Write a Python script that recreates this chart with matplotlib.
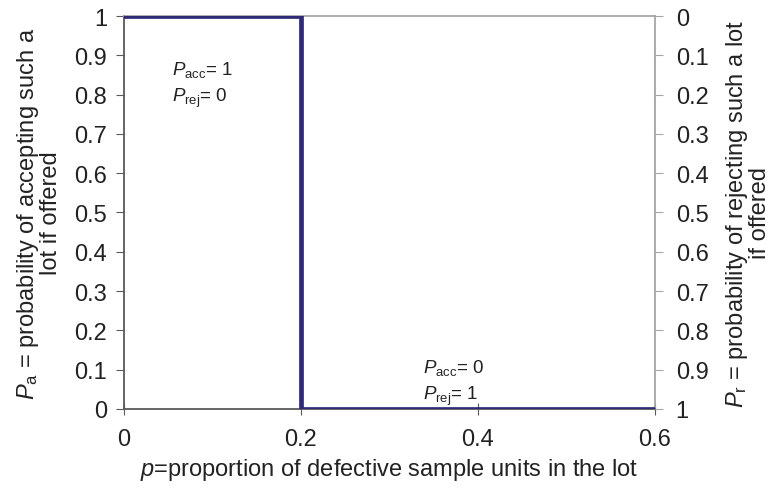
import matplotlib.pyplot as plt

plt.rcParams['font.family'] = ['Liberation Sans', 'DejaVu Sans']
plt.rcParams['mathtext.fontset'] = 'custom'
plt.rcParams['mathtext.it'] = 'Liberation Sans:italic'
plt.rcParams['mathtext.rm'] = 'Liberation Sans'

# operating characteristic curve of an ideal sampling plan
p = [0, 0.2, 0.2, 0.6]
pa = [1, 1, 0, 0]
x_ticks = [0, 0.2, 0.4, 0.6]
x_labels = ['0', '0.2', '0.4', '0.6']
y_ticks = [0, 0.1, 0.2, 0.3, 0.4, 0.5, 0.6, 0.7, 0.8, 0.9, 1]
y_labels = ['0', '0.1', '0.2', '0.3', '0.4', '0.5', '0.6', '0.7', '0.8', '0.9', '1']
r_labels = y_labels[::-1]

fig = plt.figure(figsize=(7.75, 4.89), dpi=100)
ax = fig.add_axes([0.16, 0.1616, 0.685, 0.8036])

ax.plot(p, pa, color='#2f2a78', linewidth=3.4, solid_joinstyle='miter', zorder=3)

ax.set_xlim(0, 0.6)
ax.set_ylim(0, 1)
ax.set_xticks(x_ticks)
ax.set_xticklabels(x_labels)
ax.set_yticks(y_ticks)
ax.set_yticklabels(y_labels)
ax.tick_params(axis='x', direction='inout', length=8, labelsize=17, pad=10,
               color='#595959', labelcolor='#222222')
ax.tick_params(axis='y', direction='out', length=6, labelsize=17, pad=6,
               color='#595959', labelcolor='#222222')
for side in ['left', 'bottom']:
    ax.spines[side].set_color('#595959')
    ax.spines[side].set_linewidth(1.3)
for side in ['top', 'right']:
    ax.spines[side].set_color('#a6a6a6')
    ax.spines[side].set_linewidth(1.3)

ax2 = ax.twinx()
ax2.set_ylim(0, 1)
ax2.set_yticks(y_ticks)
ax2.set_yticklabels(r_labels)
ax2.tick_params(axis='y', direction='out', length=6, labelsize=17, pad=9,
                color='#a6a6a6', labelcolor='#222222')
for side in ax2.spines:
    ax2.spines[side].set_visible(False)

ax.set_xlabel('$p$=proportion of defective sample units in the lot',
              fontsize=17, color='#222222', labelpad=4)
ax.set_ylabel('$P_{\\mathrm{a}}$ = probability of accepting such a\nlot if offered',
              fontsize=17, color='#222222', linespacing=0.95, labelpad=9)
ax2.set_ylabel('$P_{\\mathrm{r}}$ = probability of rejecting such a lot\nif offered',
               fontsize=17, color='#222222', linespacing=0.92, labelpad=11)

ann = dict(fontsize=13.5, color='#222222', zorder=4)
ax.text(0.054, 0.852, '$P_{\\mathrm{acc}}$= 1', **ann)
ax.text(0.054, 0.784, '$P_{\\mathrm{rej}}$= 0', **ann)
ax.text(0.338, 0.094, '$P_{\\mathrm{acc}}$= 0', **ann)
ax.text(0.338, 0.026, '$P_{\\mathrm{rej}}$= 1', **ann)

fig.savefig('out.png', dpi=100)
